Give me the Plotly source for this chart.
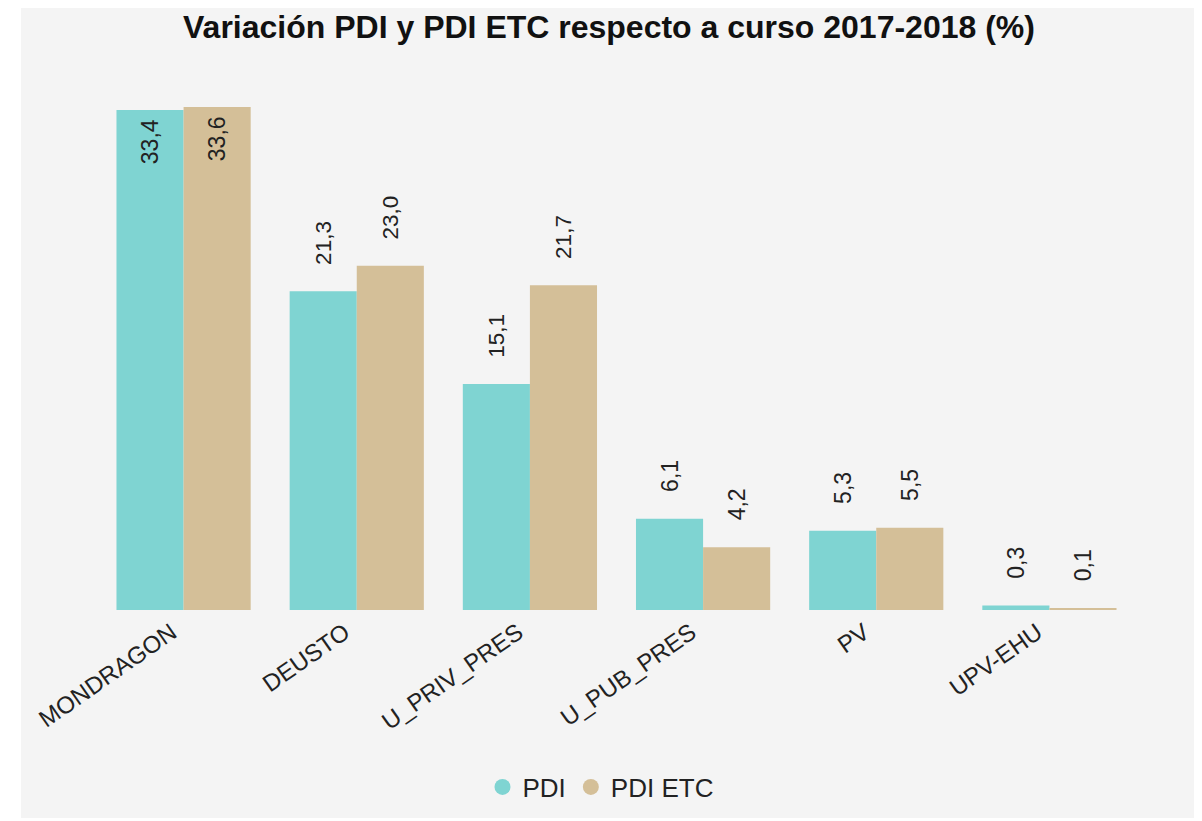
import plotly.graph_objects as go

categories = ["MONDRAGON", "DEUSTO", "U_PRIV_PRES", "U_PUB_PRES", "PV", "UPV-EHU"]
pdi = [33.4, 21.3, 15.1, 6.1, 5.3, 0.3]
pdi_etc = [33.6, 23.0, 21.7, 4.2, 5.5, 0.1]
series_names = ["PDI", "PDI ETC"]
colors = ["#7fd4d2", "#d4bf98"]

def fmt(v):
    return f"{v:.1f}".replace(".", ",")

FONT = "Liberation Sans, Arial"
fig = go.Figure()
for name, vals, col in zip(series_names, [pdi, pdi_etc], colors):
    pos = ["inside" if v > 30 else "outside" for v in vals]
    fig.add_trace(go.Bar(
        name=name, x=categories, y=vals, marker=dict(color=col, line=dict(width=0)),
        text=[fmt(v) + "\u00a0" if p == "inside" else "\u00a0\u00a0\u00a0\u2009" + fmt(v)
              for v, p in zip(vals, pos)],
        textposition=pos, textangle=-90, insidetextanchor="end",
        textfont=dict(family=FONT, size=23, color="#222"),
        cliponaxis=False, showlegend=False,
    ))
# legend entries with circular markers
for name, col in zip(series_names, colors):
    fig.add_trace(go.Scatter(
        name=name, x=[None], y=[None], mode="markers",
        marker=dict(symbol="circle", size=22, color=col), showlegend=True,
    ))

W, H = 1202, 810
PW = W - 89 - 74
fig.update_layout(
    width=W, height=H,
    paper_bgcolor="#f4f4f4", plot_bgcolor="#f4f4f4",
    margin=dict(l=89, r=74, t=92, b=208),
    barmode="group", bargap=0.225, bargroupgap=0,
    title=dict(text="<b>Variación PDI y PDI ETC respecto a curso 2017-2018 (%)</b>",
               x=0.5, xanchor="center", y=1 - 19 / H, yanchor="middle",
               font=dict(family=FONT, size=32, color="#111")),
    font=dict(family=FONT, color="#222"),
    xaxis=dict(tickangle=-35, tickfont=dict(size=24, color="#222"), showgrid=False,
               showline=False, zeroline=False, ticks="", ticklabelshift=-12,
               ticklabelstandoff=3),
    yaxis=dict(range=[0, 34.07], visible=False, showgrid=False, zeroline=False),
    legend=dict(orientation="h", x=0.5 - 16 / PW, xanchor="center", yref="container",
                y=1 - 779 / H, yanchor="middle", font=dict(family=FONT, size=26, color="#222"),
                itemwidth=30, tracegroupgap=0),
)
fig.add_shape(type="rect", xref="paper", yref="paper", x0=-0.2, x1=(13 - 89) / PW, y0=-1, y1=2,
              fillcolor="white", line=dict(width=0), layer="below")
fig.write_html("out.html")
